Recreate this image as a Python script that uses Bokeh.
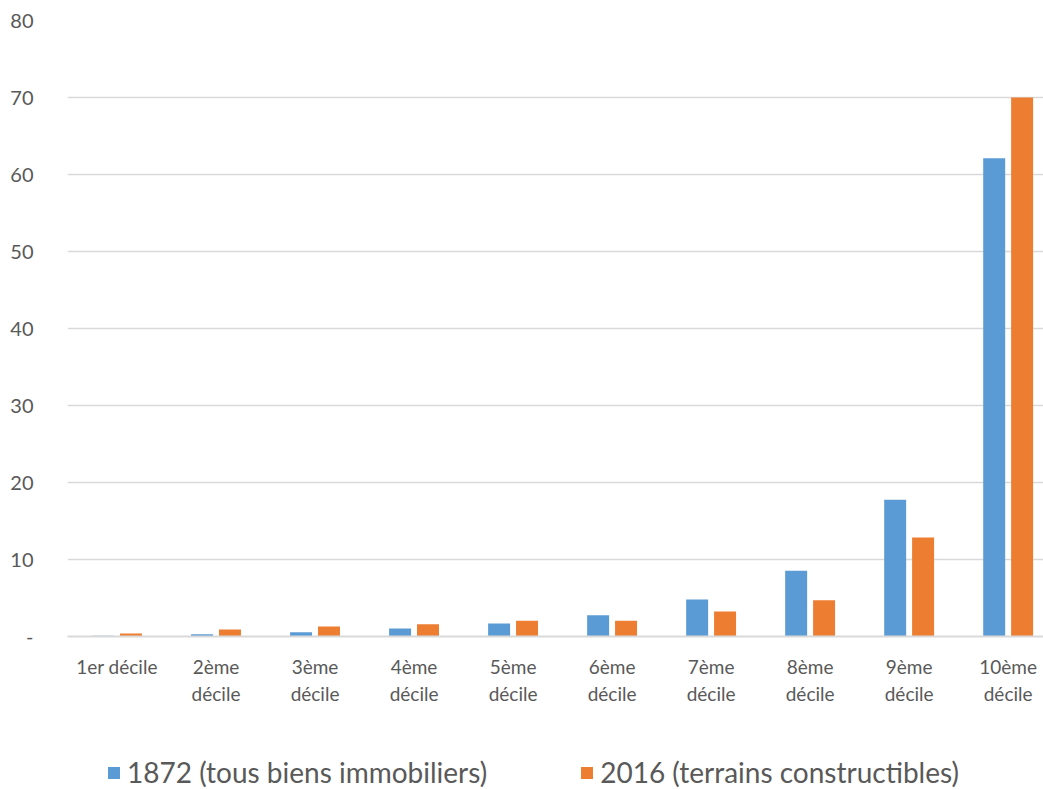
from bokeh.plotting import figure
from bokeh.layouts import column
from bokeh.models import FixedTicker, Legend, LegendItem, Range1d
from bokeh.embed import file_html
from bokeh.resources import INLINE

categories = ["1er décile", "2ème\ndécile", "3ème\ndécile", "4ème\ndécile", "5ème\ndécile",
              "6ème\ndécile", "7ème\ndécile", "8ème\ndécile", "9ème\ndécile", "10ème\ndécile"]
v1872 = [0.1, 0.3, 0.55, 1.05, 1.7, 2.75, 4.8, 8.55, 17.75, 62.1]
v2016 = [0.4, 0.9, 1.3, 1.6, 2.05, 2.05, 3.25, 4.7, 12.85, 70.0]
y_ticks = [0, 10, 20, 30, 40, 50, 60, 70, 80]
y_labels = ["-", "10", "20", "30", "40", "50", "60", "70", "80"]
series_names = ["1872 (tous biens immobiliers)", "2016 (terrains constructibles)"]

BLUE = "#5B9BD5"
ORANGE = "#ED7D31"
TXT = "#595959"
GRID = "#D9D9D9"
FONT = "Lato"

centers = [i + 0.5 for i in range(len(categories))]
x1 = [c - 0.141 for c in centers]
x2 = [c + 0.141 for c in centers]

p = figure(width=1043, height=720, x_range=Range1d(0, 9.857), y_range=Range1d(0, 80),
           output_backend="svg", toolbar_location=None,
           min_border_left=67, min_border_right=0, min_border_top=20, min_border_bottom=84)

p.vbar(x=x1, top=v1872, width=0.222, bottom=0, color=BLUE, line_color=None)
p.vbar(x=x2, top=v2016, width=0.222, bottom=0, color=ORANGE, line_color=None)

p.outline_line_color = None
p.xgrid.grid_line_color = None
p.ygrid.grid_line_color = GRID
p.ygrid.grid_line_width = 1.5

p.yaxis.ticker = FixedTicker(ticks=y_ticks)
p.yaxis.major_label_overrides = {t: l for t, l in zip(y_ticks, y_labels)}
p.yaxis.axis_line_color = None
p.yaxis.major_tick_line_color = None
p.yaxis.minor_tick_line_color = None
p.yaxis.major_label_standoff = 28
p.yaxis.major_label_text_font = FONT
p.yaxis.major_label_text_font_size = "20px"
p.yaxis.major_label_text_color = TXT

p.xaxis.ticker = FixedTicker(ticks=centers)
p.xaxis.major_label_overrides = {c: l for c, l in zip(centers, categories)}
p.xaxis.axis_line_color = GRID
p.xaxis.axis_line_width = 2
p.xaxis.major_tick_line_color = None
p.xaxis.minor_tick_line_color = None
p.xaxis.major_label_standoff = 12
p.xaxis.major_label_text_font = FONT
p.xaxis.major_label_text_font_size = "19px"
p.xaxis.major_label_text_color = TXT

# Legend strip below the chart (swatch renderers kept outside the visible range)
lg = figure(width=1043, height=70, x_range=Range1d(0, 1), y_range=Range1d(0, 1),
            output_backend="svg", toolbar_location=None,
            min_border_left=0, min_border_right=0, min_border_top=0, min_border_bottom=0)
lg.axis.visible = False
lg.grid.visible = False
lg.outline_line_color = None
s1 = lg.vbar(x=[5], top=[1], bottom=[0], width=0.1, color=BLUE, line_color=None)
s2 = lg.vbar(x=[5], top=[1], bottom=[0], width=0.1, color=ORANGE, line_color=None)
legend = Legend(items=[LegendItem(label=series_names[0], renderers=[s1]),
                       LegendItem(label=series_names[1], renderers=[s2])],
                orientation="horizontal", location=(39, 1),
                glyph_width=15, glyph_height=15, label_standoff=6, spacing=92,
                label_text_font=FONT, label_text_font_size="28px", label_text_color=TXT,
                border_line_color=None, background_fill_alpha=0, margin=0, padding=0)
lg.add_layout(legend, "center")

layout = column(p, lg, spacing=0)
open("out.html", "w").write(file_html(layout, INLINE))
